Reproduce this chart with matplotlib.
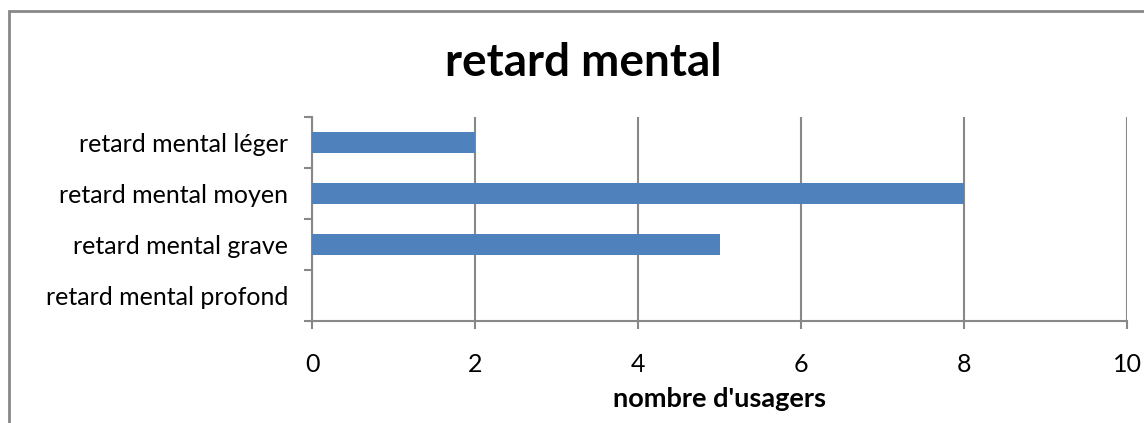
import matplotlib.pyplot as plt
from matplotlib.patches import Rectangle

categories = ['retard mental profond', 'retard mental grave',
              'retard mental moyen', 'retard mental léger']
values = [0, 5, 8, 2]
xticks = [0, 2, 4, 6, 8, 10]

W, H = 1144, 423
plt.rcParams['font.family'] = ['Lato', 'DejaVu Sans']

fig = plt.figure(figsize=(W / 100, H / 100), dpi=100)
ax = fig.add_axes([312 / W, 1 - 321 / H, (1127 - 312) / W, (321 - 117) / H])

grey = '#888888'
ypos = list(range(len(categories)))
ax.barh(ypos, values, height=0.41, color='#4F81BD', zorder=3)

ax.set_xlim(0, 10)
ax.set_ylim(-0.5, len(categories) - 0.5)
ax.set_xticks(xticks)
ax.set_xticklabels([str(t) for t in xticks], fontsize=18)
ax.set_yticks(ypos)
ax.set_yticklabels(categories, fontsize=18)
ax.set_yticks([y - 0.5 for y in range(len(categories) + 1)], minor=True)

ax.grid(axis='x', color=grey, linewidth=1.5, zorder=0)
for s in ['top', 'right']:
    ax.spines[s].set_visible(False)
for s in ['left', 'bottom']:
    ax.spines[s].set_color(grey)
    ax.spines[s].set_linewidth(1.5)

ax.tick_params(axis='y', which='major', length=0, pad=17)
ax.tick_params(axis='y', which='minor', length=6, width=1.5, color=grey)
ax.tick_params(axis='x', length=6, width=1.5, color=grey, pad=17)

ax.set_xlabel("nombre d'usagers", fontsize=19.5, fontweight='bold', labelpad=8)
fig.text(583 / W, 1 - 63 / H, 'retard mental', fontsize=33, fontweight='bold',
         ha='center', va='center')

# outer chart frame (cropped at right and bottom)
fig.patches.append(Rectangle((8.5 / W, -0.1), 1.2, 1 - 11.5 / H + 0.1,
                             transform=fig.transFigure, fill=False,
                             edgecolor=grey, linewidth=2))

fig.savefig('out.png', dpi=100)
